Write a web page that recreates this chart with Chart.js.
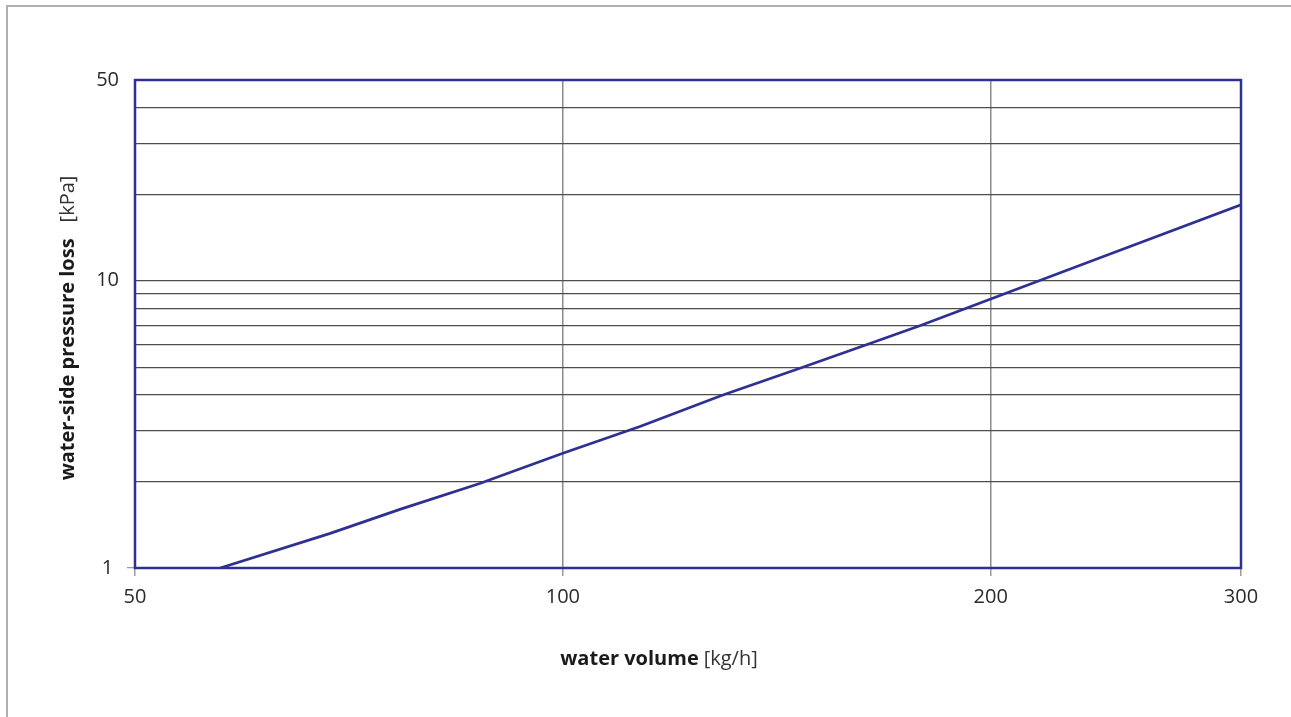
<!DOCTYPE html>
<html>
<head>
<meta charset="utf-8">
<script src="https://cdn.jsdelivr.net/npm/chart.js@4.4.1/dist/chart.umd.min.js"></script>
<style>
    html, body { margin: 0; padding: 0; background: #fff; }
    #wrap { position: relative; width: 1291px; height: 717px; }
    #frame {
        position: absolute; left: 6px; top: 5px; right: 0; bottom: 0;
        border-top: 2px solid #adb1b4; border-left: 2px solid #adb1b4;
    }
    #chart { position: absolute; left: 0; top: 0; }
</style>
</head>
<body>
<div id="wrap">
    <div id="frame"></div>
    <canvas id="chart" width="1291" height="717"></canvas>
</div>
<script>
// values (log-log diagram)
const waterVolume = [57.4, 68.6, 76.8, 87.4, 100, 113.3, 129.6, 147.5, 163.7, 178.3, 200, 238.5, 300];
const pressureLoss = [1.0, 1.32, 1.6, 1.97, 2.51, 3.11, 4.0, 5.0, 6.0, 6.97, 8.64, 12.0, 18.4];

const xTicks = [50, 100, 200, 300];
const xGrid = [100, 200];
const yTicks = [1, 2, 3, 4, 5, 6, 7, 8, 9, 10, 20, 30, 40, 50];
const yLabels = [1, 10, 50];

const xTitleBold = "water volume";
const xTitleUnit = "[kg/h]";
const yTitleBold = "water-side pressure loss";
const yTitleUnit = "[kPa]";

const BLUE = '#2e3192';
const tickFont = { family: 'Open Sans', size: 20, weight: '400' };
const BOLD = '700 20px "Open Sans"';
const LIGHT = '400 20px "Open Sans"';

function drawMixed(ctx, bold, unit, gap) {
    ctx.font = BOLD;
    const wb = ctx.measureText(bold).width;
    ctx.font = LIGHT;
    const wu = ctx.measureText(unit).width;
    const start = -(wb + gap + wu) / 2;
    ctx.textBaseline = 'alphabetic';
    ctx.textAlign = 'left';
    ctx.fillStyle = '#1a1a1a';
    ctx.font = BOLD;
    ctx.fillText(bold, start, 0);
    ctx.fillStyle = '#333';
    ctx.font = LIGHT;
    ctx.fillText(unit, start + wb + gap, 0);
}

// plot frame and the two axis titles (bold name + light unit)
const framePlugin = {
    id: 'framePlugin',
    afterDatasetsDraw(chart) {
        const a = chart.chartArea;
        const ctx = chart.ctx;
        ctx.save();
        ctx.strokeStyle = BLUE;
        ctx.lineWidth = 2.5;
        ctx.strokeRect(a.left, a.top, a.right - a.left, a.bottom - a.top);
        ctx.restore();
    },
    afterDraw(chart) {
        const ctx = chart.ctx;
        ctx.save();
        ctx.translate(659, 665);
        drawMixed(ctx, xTitleBold, xTitleUnit, 5);
        ctx.restore();

        ctx.save();
        ctx.translate(74, 328);
        ctx.rotate(-Math.PI / 2);
        drawMixed(ctx, yTitleBold, yTitleUnit, 16);
        ctx.restore();
    }
};

const points = waterVolume.map((v, i) => ({ x: v, y: pressureLoss[i] }));

new Chart(document.getElementById('chart'), {
    type: 'scatter',
    data: {
        datasets: [{
            data: points,
            showLine: true,
            borderColor: BLUE,
            borderWidth: 2.7,
            pointRadius: 0,
            fill: false
        }]
    },
    options: {
        responsive: false,
        animation: false,
        layout: { padding: { top: 80, right: 50, left: 0, bottom: 0 } },
        plugins: {
            legend: { display: false },
            tooltip: { enabled: false }
        },
        scales: {
            x: {
                type: 'logarithmic',
                position: 'bottom',
                min: 50,
                max: 300,
                afterBuildTicks: axis => { axis.ticks = xTicks.map(v => ({ value: v })); },
                afterFit: axis => { axis.height = 149; },
                border: { display: false },
                grid: {
                    color: c => xGrid.includes(c.tick.value) ? '#8c8c8c' : 'rgba(0,0,0,0)',
                    lineWidth: 1.5,
                    drawTicks: true,
                    tickLength: 8,
                    tickColor: '#9a9a9a'
                },
                ticks: {
                    autoSkip: false,
                    maxRotation: 0,
                    padding: 9,
                    color: '#2b2b2b',
                    font: tickFont,
                    callback: v => xTicks.includes(v) ? String(v) : ''
                }
            },
            y: {
                type: 'logarithmic',
                min: 1,
                max: 50,
                afterBuildTicks: axis => { axis.ticks = yTicks.map(v => ({ value: v })); },
                afterFit: axis => { axis.width = 135; },
                border: { display: false },
                grid: {
                    color: c => (c.tick.value === 1 || c.tick.value === 50) ? 'rgba(0,0,0,0)' : '#4d4d4d',
                    lineWidth: 1.3,
                    drawTicks: true,
                    tickLength: 8,
                    tickColor: c => c.tick.value === 1 ? '#9a9a9a' : 'rgba(0,0,0,0)'
                },
                ticks: {
                    autoSkip: false,
                    crossAlign: 'center',
                    padding: 8,
                    color: '#2b2b2b',
                    font: tickFont,
                    callback: v => yLabels.includes(v) ? String(v) : ''
                }
            }
        }
    },
    plugins: [framePlugin]
});
</script>
</body>
</html>
